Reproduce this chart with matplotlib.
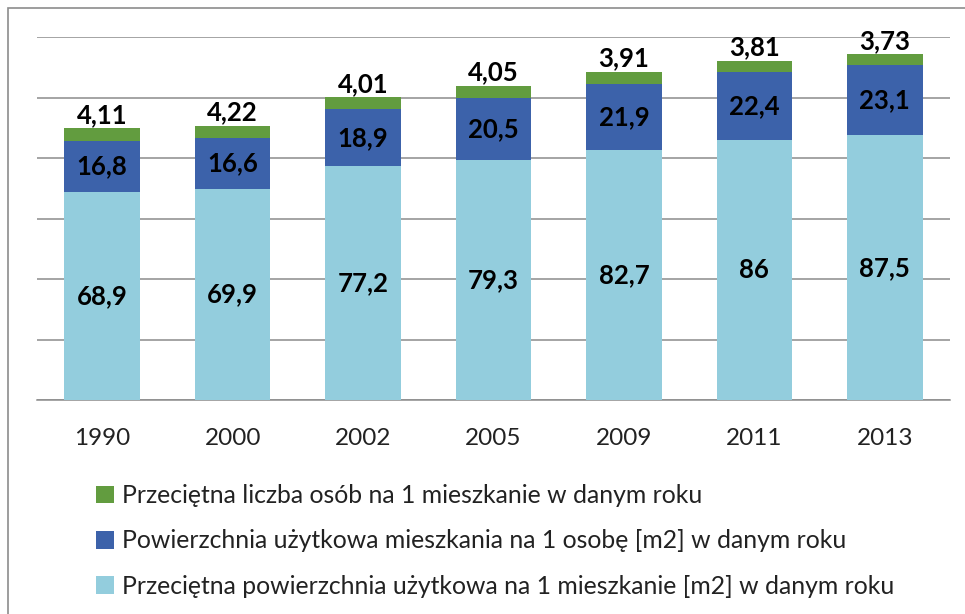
import matplotlib.pyplot as plt
from matplotlib.patches import Rectangle

# Dane
lata = ["1990", "2000", "2002", "2005", "2009", "2011", "2013"]
pow_mieszkania = [68.9, 69.9, 77.2, 79.3, 82.7, 86, 87.5]
pow_na_osobe = [16.8, 16.6, 18.9, 20.5, 21.9, 22.4, 23.1]
osoby_na_mieszkanie = [4.11, 4.22, 4.01, 4.05, 3.91, 3.81, 3.73]

etykiety = [
    "Przeciętna liczba osób na 1 mieszkanie w danym roku",
    "Powierzchnia użytkowa mieszkania na 1 osobę [m2] w danym roku",
    "Przeciętna powierzchnia użytkowa na 1 mieszkanie [m2] w danym roku",
]
kolory = ["#629C3F", "#3C62AA", "#93CDDD"]

plt.rcParams["font.family"] = ["Lato", "DejaVu Sans"]

W, H = 965, 614
fig = plt.figure(figsize=(W / 100, H / 100), dpi=100)

# Ramka wykresu (ucieta z prawej i od dolu)
fig.patches.append(Rectangle((8 / W, -0.1), 1.2, 1 - 8 / H + 0.1, transform=fig.transFigure,
                             fill=False, edgecolor="#8c8c8c", linewidth=1.2))

ax = fig.add_axes([37 / W, 1 - 400 / H, (950 - 37) / W, (400 - 37) / H])
x = range(len(lata))
szer = 0.58

b1 = ax.bar(x, pow_mieszkania, width=szer, color=kolory[2], zorder=3)
dol2 = pow_mieszkania
b2 = ax.bar(x, pow_na_osobe, width=szer, bottom=dol2, color=kolory[1], zorder=3)
dol3 = [a + b for a, b in zip(pow_mieszkania, pow_na_osobe)]
b3 = ax.bar(x, osoby_na_mieszkanie, width=szer, bottom=dol3, color=kolory[0], zorder=3)

fmt = lambda v: f"{v:g}".replace(".", ",")
ax.bar_label(b1, labels=[fmt(v) for v in pow_mieszkania], label_type="center",
             fontsize=18.5, fontweight="bold", color="black", zorder=4)
ax.bar_label(b2, labels=[fmt(v) for v in pow_na_osobe], label_type="center",
             fontsize=18.5, fontweight="bold", color="black", zorder=4)
ax.bar_label(b3, labels=[fmt(v) for v in osoby_na_mieszkanie], label_type="edge",
             padding=1, fontsize=18.5, fontweight="bold", color="black", zorder=4)

ax.set_xlim(-0.5, len(lata) - 0.5)
ax.set_ylim(0, 120)
ax.set_yticks(range(0, 121, 20))
ax.set_yticklabels([])
ax.set_xticks(list(x))
ax.set_xticklabels(lata, fontsize=17.5, color="#222222")
ax.tick_params(axis="both", length=0, pad=20)
ax.grid(axis="y", color="#8c8c8c", linewidth=1.1, zorder=0)
for s in ["top", "right", "left"]:
    ax.spines[s].set_visible(False)
ax.spines["bottom"].set_color("#8c8c8c")
ax.spines["bottom"].set_linewidth(1.1)

uchwyty = [b3, b2, b1]
fig.legend(uchwyty, etykiety, loc="upper left", bbox_to_anchor=(74 / W, 1 - 462 / H),
           frameon=False, fontsize=17.8, handlelength=0.7, handleheight=0.7,
           handletextpad=0.35, labelspacing=0.9, labelcolor="#222222")

fig.savefig("out.png", dpi=100)
